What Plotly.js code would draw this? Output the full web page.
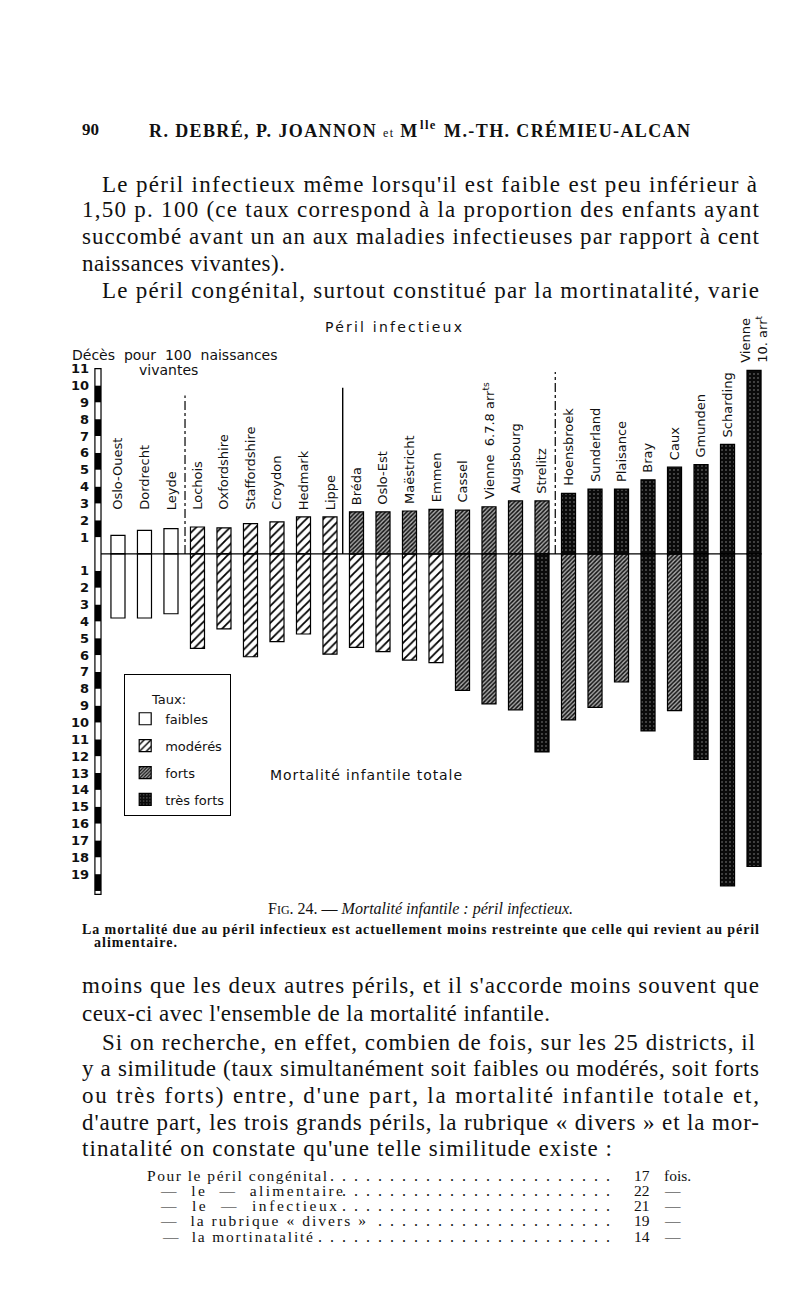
<!DOCTYPE html>
<html>
<head>
<meta charset="utf-8">
<script src="https://cdn.plot.ly/plotly-3.0.1.min.js"></script>
<style>
html,body{margin:0;padding:0;background:#fff;}
#chart{width:800px;height:1304px;}
</style>
</head>
<body>
<div id="chart"></div>
<script>
// ---------------- DATA ----------------
const districts = ["Oslo-Ouest","Dordrecht","Leyde","Lochois","Oxfordshire","Staffordshire","Croydon","Hedmark","Lippe","Bréda","Oslo-Est","Maëstricht","Emmen","Cassel","Vienne 6.7.8 arrᵗˢ","Augsbourg","Strelitz","Hoensbroek","Sunderland","Plaisance","Bray","Caux","Gmunden","Scharding","Vienne 10. arrᵗ"];
const districtLabels = ["Oslo-Ouest","Dordrecht","Leyde","Lochois","Oxfordshire","Staffordshire","Croydon","Hedmark","Lippe","Bréda","Oslo-Est","Maëstricht","Emmen","Cassel","Vienne  6.7.8 arr<sup>ts</sup>","Augsbourg","Strelitz","Hoensbroek","Sunderland","Plaisance","Bray","Caux","Gmunden","Scharding","Vienne<br>10. arr<sup>t</sup>"];
// Péril infectieux (décès pour 100 naissances vivantes)
const infectieux = [1.1,1.4,1.5,1.6,1.55,1.8,1.9,2.2,2.2,2.5,2.5,2.55,2.65,2.6,2.8,3.15,3.15,3.6,3.85,3.85,4.4,5.15,5.3,6.5,10.9];
const infectieuxTaux = ["faibles","faibles","faibles","modérés","modérés","modérés","modérés","modérés","modérés","forts","forts","forts","forts","forts","forts","forts","forts","très forts","très forts","très forts","très forts","très forts","très forts","très forts","très forts"];
// Mortalité infantile totale
const totale = [3.8,3.8,3.55,5.6,4.45,6.1,5.2,4.75,5.95,5.55,5.8,6.3,6.45,8.1,8.9,9.25,11.75,9.85,9.1,7.6,10.5,9.3,12.2,19.7,18.55];
const totaleTaux = ["faibles","faibles","faibles","modérés","modérés","modérés","modérés","modérés","modérés","modérés","modérés","modérés","modérés","forts","forts","forts","très forts","forts","forts","forts","très forts","forts","très forts","très forts","très forts"];
const tauxNames = ["faibles","modérés","forts","très forts"];
const upTicks = [1,2,3,4,5,6,7,8,9,10,11];
const downTicks = [1,2,3,4,5,6,7,8,9,10,11,12,13,14,15,16,17,18,19];
// similitude table
const tableRows = ["Pour le péril congénital", "—  le  —  alimentaire", "—  le  —  infectieux", "—  la rubrique « divers »", "—  la mortinatalité"];
const tableCounts = [17,22,21,19,14];
const tableUnits = ["fois.","—","—","—","—"];
// ---------------------------------------

const styles = {
  "faibles":   {color:"#ffffff", pattern:{shape:""}},
  "modérés":   {color:"#ffffff", pattern:{shape:"/", size:6, solidity:0.3, fgcolor:"#000", bgcolor:"#fff", fillmode:"replace"}},
  "forts":     {color:"#ffffff", pattern:{shape:"/", size:3, solidity:0.5, fgcolor:"#111", bgcolor:"#a8a8a8", fillmode:"replace"}},
  "très forts":{color:"#0a0a0a", pattern:{shape:".", size:4, solidity:0.08, fgcolor:"#aaa", bgcolor:"#0a0a0a", fillmode:"replace"}}
};

const traces = [];
tauxNames.forEach(function(t){
  const xu=[], yu=[], xl=[], yl=[];
  districts.forEach(function(d,i){
    if (infectieuxTaux[i]===t){xu.push(d); yu.push(infectieux[i]);}
    if (totaleTaux[i]===t){xl.push(d); yl.push(-totale[i]);}
  });
  const mk = {color:styles[t].color, pattern:styles[t].pattern, line:{color:"#000", width:1.2}};
  traces.push({type:"bar", x:xu, y:yu, name:t, legendgroup:t, showlegend:true, width:0.53, marker:mk, hoverinfo:"x+y"});
  traces.push({type:"bar", x:xl, y:yl, name:t, legendgroup:t, showlegend:false, width:0.53, marker:mk, hoverinfo:"x+y"});
});

const W=800, H=1304, L=92, R=20, T=360, B=409;
const pw = W-L-R, ph = H-T-B;
function px(x){return (x-L)/pw;}
function py(y){return 1-(y-T)/ph;}
const sans = "DejaVu Sans", serif = "Liberation Serif";
const ann = [];
const fit = {};   // annotation index -> drawn width (px) to spread the line to
function txt(s, x, y, size, fam, extra, width){
  ann.push(Object.assign({text:s, xref:"paper", yref:"paper", x:px(x), y:py(y), xanchor:"left", yanchor:"middle", align:"left",
    showarrow:false, font:{family:fam, size:size, color:"#111"}}, extra||{}));
  if (width) fit[ann.length-1] = width;
}

const shapes = [];
// alternating scale bar
for (let i=-21;i<11;i++){
  const y0 = Math.max(i,-20.2), y1 = i+1;
  if (y1<=-20.2) continue;
  let black;
  if (i>=0) black = (i%2===1); else black = ((-i-1)%2===1);
  shapes.push({type:"rect", xref:"x", yref:"y", x0:-0.87, x1:-0.64, y0:y0, y1:y1,
    fillcolor: black?"#000":"#fff", line:{width:0}});
}
shapes.push({type:"rect", xref:"x", yref:"y", x0:-0.87, x1:-0.64, y0:-20.2, y1:11, line:{color:"#000", width:1.2}});
// baseline
shapes.push({type:"line", xref:"x", yref:"y", x0:-0.64, x1:23.77, y0:0, y1:0, line:{color:"#000", width:1.3}});
// separators
shapes.push({type:"line", xref:"x", yref:"y", x0:2.53, x1:2.53, y0:0, y1:9.4, line:{color:"#000", width:1.2, dash:"dashdot"}});
shapes.push({type:"line", xref:"x", yref:"y", x0:8.48, x1:8.48, y0:0, y1:9.86, line:{color:"#000", width:1.4}});
shapes.push({type:"line", xref:"x", yref:"y", x0:16.5, x1:16.5, y0:0, y1:10.8, line:{color:"#000", width:1.2, dash:"dashdot"}});

districts.forEach(function(d,i){
  ann.push({x:d, y:Math.max(infectieux[i]+0.3, 2.5), xref:"x", yref:"y", text:districtLabels[i], textangle:-90,
    xanchor:"center", yanchor:"bottom", align:"left", showarrow:false, font:{family:sans, size:13, color:"#111"}});
});
txt("Péril infectieux", 323, 327, 14, sans, null, 137);
txt("Décès  pour  100  naissances", 70, 355, 14, sans);
txt("vivantes", 137, 370, 14, sans);
txt("Mortalité infantile totale", 268, 775, 14, sans, null, 192);

// page text
txt("<b>90</b>", 80, 130, 17, serif);
txt("<b>R. DEBRÉ, P. JOANNON</b> <span style='font-size:12px'>et</span> <b>M<sup>lle</sup> M.-TH. CRÉMIEU-ALCAN</b>", 147, 130, 18, serif, null, 541);
const para = [
  ["Le péril infectieux même lorsqu'il est faible est peu inférieur à", 100, 184, 655],
  ["1,50 p. 100 (ce taux correspond à la proportion des enfants ayant", 80, 210, 677],
  ["succombé avant un an aux maladies infectieuses par rapport à cent", 80, 237, 677],
  ["naissances vivantes).", 80, 263, 203],
  ["Le péril congénital, surtout constitué par la mortinatalité, varie", 100, 290, 657],
  ["moins que les deux autres périls, et il s'accorde moins souvent que", 80, 985, 677],
  ["ceux-ci avec l'ensemble de la mortalité infantile.", 80, 1013, 468],
  ["Si on recherche, en effet, combien de fois, sur les 25 districts, il", 100, 1042, 653],
  ["y a similitude (taux simultanément soit faibles ou modérés, soit forts", 80, 1068, 677],
  ["ou très forts) entre, d'une part, la mortalité infantile totale et,", 80, 1095, 677],
  ["d'autre part, les trois grands périls, la rubrique « divers » et la mor-", 80, 1122, 677],
  ["tinatalité on constate qu'une telle similitude existe :", 80, 1148, 530]
];
para.forEach(function(l){ txt(l[0], l[1], l[2], 23, serif, null, l[3]); });

txt("F<span style='font-size:12px'>IG</span>. 24. — <i>Mortalité infantile : péril infectieux.</i>", 420, 909, 16, serif, {xanchor:"center", align:"center"});
txt("<b>La mortalité due au péril infectieux est actuellement moins restreinte que celle qui revient au péril</b>", 80, 929, 14, serif, null, 677);
txt("<b>alimentaire.</b>", 92, 942, 14, serif, null, 83);

// table
const tableX = [145,158,158,158,160];
const tableY = [1175,1190,1205,1220,1236];
const tableW = [180,182,176,205,150];
const tableDots = [24,23,23,20,25];
tableRows.forEach(function(r,i){
  txt(r, tableX[i], tableY[i], 15.5, serif, null, tableW[i]);
  txt(Array(tableDots[i]).fill(".").join("\u2002"), 612, tableY[i], 16, serif, {xanchor:"right", align:"right"});
  txt(String(tableCounts[i]), 652, tableY[i], 15.5, serif, {xanchor:"right", align:"right"});
  txt(tableUnits[i], 662, tableY[i], 15.5, serif);
});

const layout = {
  width:W, height:H, margin:{l:L, r:R, t:T, b:B, pad:0},
  paper_bgcolor:"#fff", plot_bgcolor:"rgba(0,0,0,0)",
  barmode:"overlay", bargap:0,
  font:{family:sans, color:"#111"},
  xaxis:{type:"category", categoryarray:districts, categoryorder:"array", range:[-0.98,24.98],
    showticklabels:false, showgrid:false, zeroline:false, showline:false, ticks:""},
  yaxis:{range:[-20.24,11.51], tickvals:upTicks.concat(downTicks.map(function(v){return -v;})),
    ticktext:upTicks.map(String).concat(downTicks.map(String)), showgrid:false, zeroline:false, showline:false,
    ticks:"", tickfont:{family:sans, size:13, color:"#111", weight:"bold"}, ticklabelstandoff:2},
  showlegend:true,
  legend:{x:px(124), y:py(674), xanchor:"left", yanchor:"top", bgcolor:"#fff", bordercolor:"#000", borderwidth:1.2,
    font:{family:sans, size:13, color:"#111"}, tracegroupgap:7, traceorder:"grouped",
    title:{text:"<br><span style='font-size:13px'>\u00a0\u00a0\u00a0\u00a0\u00a0\u00a0Taux:</span>", font:{family:sans, size:11, color:"#111"}}},
  shapes:shapes, annotations:ann
};
Plotly.newPlot("chart", traces, layout, {staticPlot:true, displayModeBar:false}).then(function(gd){
  Object.keys(fit).forEach(function(k){
    const el = gd.querySelector('g.annotation[data-index="'+k+'"] text.annotation-text');
    if (el){ el.setAttribute("textLength", fit[k]); el.setAttribute("lengthAdjust", "spacing"); }
  });
});
</script>
</body>
</html>
